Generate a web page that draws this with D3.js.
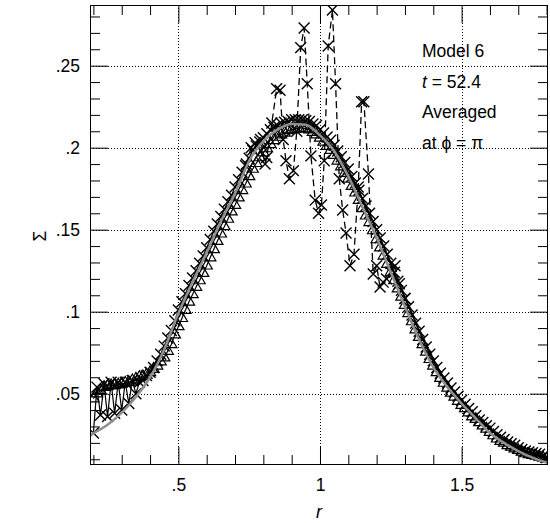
<!DOCTYPE html>
<html>
<head>
<meta charset="utf-8">
<script src="https://cdn.jsdelivr.net/npm/d3@7"></script>
<style>
  body { margin: 0; background: #fff; }
  text { font-family: "Liberation Sans", Arial, sans-serif; }
</style>
</head>
<body>
<script>
// --- data ---
const rGrid = [0.2,0.2125,0.225,0.2375,0.25,0.2625,0.275,0.2875,0.3,0.3125,0.325,0.3375,0.35,0.3625,0.375,0.3875,
  0.4,0.4125,0.425,0.4375,0.45,0.4625,0.475,0.4875,0.5,0.5125,0.525,0.5375,0.55,0.5625,0.575,0.5875,
  0.6,0.6125,0.625,0.6375,0.65,0.6625,0.675,0.6875,0.7,0.7125,0.725,0.7375,0.75,0.7625,0.775,0.7875,
  0.8,0.8125,0.825,0.8375,0.85,0.8625,0.875,0.8875,0.9,0.9125,0.925,0.9375,0.95,0.9625,0.975,0.9875,
  1.0,1.0125,1.025,1.0375,1.05,1.0625,1.075,1.0875,1.1,1.1125,1.125,1.1375,1.15,1.1625,1.175,1.1875,
  1.2,1.2125,1.225,1.2375,1.25,1.2625,1.275,1.2875,1.3,1.3125,1.325,1.3375,1.35,1.3625,1.375,1.3875,
  1.4,1.4125,1.425,1.4375,1.45,1.4625,1.475,1.4875,1.5,1.5125,1.525,1.5375,1.55,1.5625,1.575,1.5875,
  1.6,1.6125,1.625,1.6375,1.65,1.6625,1.675,1.6875,1.7,1.7125,1.725,1.7375,1.75,1.7625,1.775,1.7875,1.8];

// averaged profile (triangles, solid)
const sigmaAvg = [.047,.050,.052,.054,.0545,.055,.055,.0555,.056,.0565,.057,.058,.059,.060,.0605,.0615,
  .063,.065,.067,.0695,.072,.076,.080,.086,.091,.096,.101,.106,.1105,.115,.119,.1235,
  .128,.133,.138,.143,.1475,.152,.1565,.161,.165,.1695,.174,.178,.1825,.187,.1905,.194,
  .197,.1995,.202,.2045,.2065,.208,.209,.2105,.211,.2115,.212,.212,.2115,.211,.2095,.208,
  .206,.2035,.201,.1985,.1955,.192,.1885,.1845,.181,.1765,.1725,.168,.163,.1585,.1545,.1495,
  .144,.139,.134,.129,.124,.119,.114,.109,.104,.099,.094,.089,.0845,.080,.0755,.071,
  .067,.063,.0595,.0565,.0535,.0505,.048,.0455,.043,.041,.0385,.036,.0345,.0325,.0305,.0285,
  .0265,.0245,.0225,.021,.020,.0185,.0175,.0165,.0155,.0145,.0135,.013,.0125,.012,.0115,.011,.010];

// profile at phi = pi (crosses, solid)
const sigmaPhi = [.026,.054,.037,.056,.036,.057,.038,.057,.040,.057,.044,.058,.050,.057,.058,.061,
  .063,.066,.070,.074,.079,.084,.0885,.0945,.101,.106,.111,.116,.1205,.125,.1295,.134,
  .139,.144,.149,.1535,.158,.1625,.167,.171,.176,.1805,.185,.189,.1935,.1985,.201,.2035,
  .206,.2085,.211,.2125,.2135,.215,.2155,.216,.217,.217,.217,.217,.2165,.216,.2145,.2135,
  .211,.209,.2065,.2045,.2015,.198,.1945,.191,.187,.1825,.1785,.174,.169,.1645,.160,.155,
  .150,.145,.140,.135,.1295,.124,.1185,.113,.108,.103,.098,.093,.088,.083,.0785,.074,
  .070,.066,.0625,.0595,.0565,.0535,.051,.0485,.046,.0435,.041,.039,.0365,.034,.0325,.0305,
  .029,.027,.025,.0235,.022,.0205,.0195,.0185,.017,.016,.015,.0145,.014,.0135,.013,.012,.011];

// spiky run (crosses, dashed)
const rSpike = [0.740,0.757,0.771,0.790,0.806,0.812,0.830,0.847,0.859,0.870,0.880,0.892,0.906,0.918,0.932,0.944,0.955,0.968,0.983,0.995,
  1.005,1.015,1.029,1.044,1.055,1.068,1.080,1.092,1.106,1.120,1.135,1.147,1.155,1.171,1.188,1.200,1.212,1.223,1.235,1.250,1.265,1.280,1.300];
const sigmaSpike = [.190,.200,.203,.205,.190,.194,.215,.236,.235,.205,.192,.181,.186,.210,.261,.273,.239,.195,.168,.160,
  .165,.192,.262,.284,.239,.181,.162,.148,.128,.135,.176,.228,.228,.184,.123,.128,.115,.118,.120,.124,.128,.117,.108];

// initial model curve (grey)
const rModel = [0.19,0.25,0.30,0.35,0.40,0.45,0.50,0.55,0.60,0.65,0.70,0.75,0.80,0.85,0.90,0.95,1.00,1.05,1.10,1.15,
  1.20,1.25,1.30,1.35,1.40,1.45,1.50,1.55,1.60,1.65,1.70,1.75,1.80];
const sigmaModel = [.025,.031,.0385,.048,.060,.077,.099,.118,.136,.155,.172,.192,.204,.211,.2145,.214,.2075,.198,.1825,.164,
  .145,.124,.103,.083,.066,.054,.044,.035,.026,.020,.015,.011,.008];

const xMajor = [0.5, 1, 1.5];
const xMajorLabels = [".5", "1", "1.5"];
const xMinor = [0.2,0.3,0.4,0.6,0.7,0.8,0.9,1.1,1.2,1.3,1.4,1.6,1.7,1.8];
const yMajor = [0.05, 0.1, 0.15, 0.2, 0.25];
const yMajorLabels = [".05", ".1", ".15", ".2", ".25"];
const yMinor = [0.01,0.02,0.03,0.04,0.06,0.07,0.08,0.09,0.11,0.12,0.13,0.14,0.16,0.17,0.18,0.19,
  0.21,0.22,0.23,0.24,0.26,0.27,0.28];

const annotations = ["Model 6", "t = 52.4", "Averaged", "at \u03D5 = \u03C0"];

// --- layout ---
const W = 550, H = 523;
const mLeft = 90, mRight = 548, mTop = 5, mBottom = 465;
const fontSize = "17.5px";

const svg = d3.select("body").append("svg")
  .attr("width", W)
  .attr("height", H);

const x = d3.scaleLinear().domain([0.188, 1.805]).range([mLeft, mRight]);
const y = d3.scaleLinear().domain([0.0065, 0.287]).range([mBottom, mTop]);

svg.append("clipPath").attr("id", "plot-clip")
  .append("rect")
  .attr("x", mLeft).attr("y", mTop)
  .attr("width", mRight - mLeft).attr("height", mBottom - mTop);

// dotted grid
const grid = svg.append("g").attr("stroke", "#000").attr("stroke-width", 1).attr("stroke-dasharray", "1,2");
grid.selectAll(".gx").data(xMajor).enter().append("line")
  .attr("x1", d => Math.round(x(d)) + 0.5).attr("x2", d => Math.round(x(d)) + 0.5)
  .attr("y1", mTop).attr("y2", mBottom);
grid.selectAll(".gy").data(yMajor).enter().append("line")
  .attr("x1", mLeft).attr("x2", mRight)
  .attr("y1", d => Math.round(y(d)) + 0.5).attr("y2", d => Math.round(y(d)) + 0.5);

// axes: inward ticks on all four sides
function addAxis(axisFn, pos, values, size, labels, pad) {
  const ax = axisFn.tickValues(values).tickSizeInner(-size).tickSizeOuter(0);
  if (labels) {
    ax.tickFormat((d, i) => labels[i]).tickPadding(pad);
  } else {
    ax.tickFormat("");
  }
  const g = svg.append("g").attr("transform", pos).call(ax);
  g.select(".domain").remove();
  g.selectAll("line").attr("stroke", "#000");
  g.selectAll("text").attr("fill", "#000").style("font-size", fontSize)
    .style("font-family", "'Liberation Sans', Arial, sans-serif");
  return g;
}

addAxis(d3.axisBottom(x), `translate(0,${mBottom})`, xMajor, 18, xMajorLabels, 14);
addAxis(d3.axisBottom(x), `translate(0,${mBottom})`, xMinor, 10);
addAxis(d3.axisTop(x), `translate(0,${mTop})`, xMajor, 18);
addAxis(d3.axisTop(x), `translate(0,${mTop})`, xMinor, 10);
addAxis(d3.axisLeft(y), `translate(${mLeft},0)`, yMajor, 18, yMajorLabels, 10);
addAxis(d3.axisLeft(y), `translate(${mLeft},0)`, yMinor, 10);
addAxis(d3.axisRight(y), `translate(${mRight},0)`, yMajor, 18);
addAxis(d3.axisRight(y), `translate(${mRight},0)`, yMinor, 10);

// data layer
const plot = svg.append("g").attr("clip-path", "url(#plot-clip)");

const line = d3.line().x(d => x(d[0])).y(d => y(d[1]));
const avgPts = rGrid.map((r, i) => [r, sigmaAvg[i]]);
const phiPts = rGrid.map((r, i) => [r, sigmaPhi[i]]);
const spikePts = rSpike.map((r, i) => [r, sigmaSpike[i]]);
const modelPts = rModel.map((r, i) => [r, sigmaModel[i]]);

plot.append("path").datum(avgPts).attr("d", line)
  .attr("fill", "none").attr("stroke", "#000").attr("stroke-width", 1.2);
plot.append("path").datum(phiPts).attr("d", line)
  .attr("fill", "none").attr("stroke", "#000").attr("stroke-width", 1.2);
plot.append("path").datum(spikePts).attr("d", line)
  .attr("fill", "none").attr("stroke", "#000").attr("stroke-width", 1.3)
  .attr("stroke-dasharray", "7,4");

const tri = d3.symbol().type(d3.symbolTriangle).size(55);
plot.selectAll(".tri").data(avgPts).enter().append("path")
  .attr("d", tri)
  .attr("transform", d => `translate(${x(d[0])},${y(d[1])})`)
  .attr("fill", "none").attr("stroke", "#000").attr("stroke-width", 1.2);

const cross = d3.symbol().type(d3.symbolX).size(80);
plot.selectAll(".xphi").data(phiPts.concat(spikePts)).enter().append("path")
  .attr("d", cross)
  .attr("transform", d => `translate(${x(d[0])},${y(d[1])})`)
  .attr("fill", "none").attr("stroke", "#000").attr("stroke-width", 1.4);

plot.append("path").datum(modelPts)
  .attr("d", line.curve(d3.curveMonotoneX))
  .attr("fill", "none").attr("stroke", "#8f8f8f").attr("stroke-width", 2.5);

// frame
svg.append("rect")
  .attr("x", mLeft + 0.5).attr("y", mTop + 0.5)
  .attr("width", mRight - mLeft - 1).attr("height", mBottom - mTop - 1)
  .attr("fill", "none").attr("stroke", "#000").attr("stroke-width", 1);

// axis titles
svg.append("text")
  .attr("x", (mLeft + mRight) / 2).attr("y", 518)
  .attr("text-anchor", "middle")
  .style("font-size", "18px").style("font-style", "italic")
  .text("r");

svg.append("text")
  .attr("transform", "translate(46,236) rotate(-90)")
  .attr("text-anchor", "middle")
  .style("font-size", fontSize)
  .text("\u03A3");

// annotation block
const note = svg.append("g").style("font-size", fontSize);
annotations.forEach((s, i) => {
  const t = note.append("text").attr("x", 422).attr("y", 57 + i * 30.5);
  if (i === 1) {
    t.append("tspan").style("font-style", "italic").text("t");
    t.append("tspan").text(s.slice(1));
  } else {
    t.text(s);
  }
});
</script>
</body>
</html>
